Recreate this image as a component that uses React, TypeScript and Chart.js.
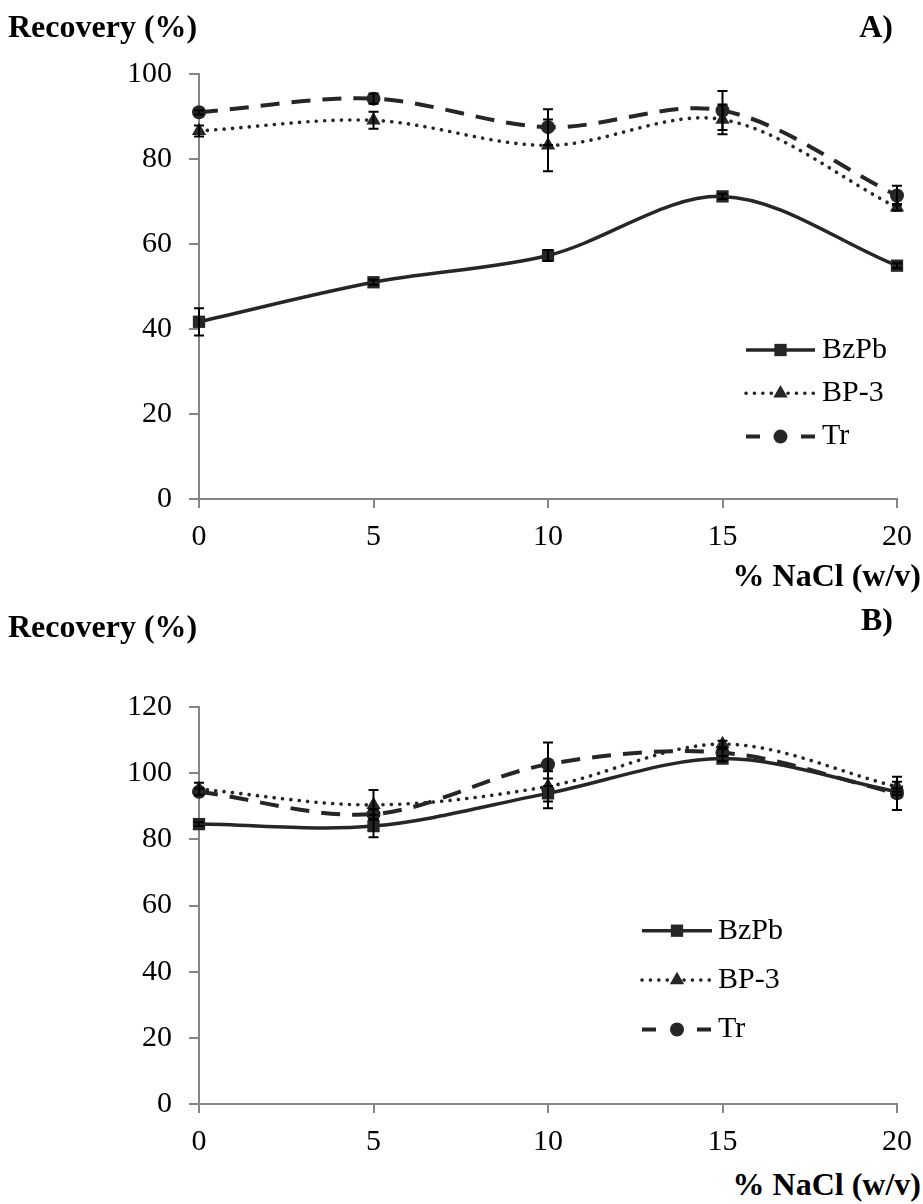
import React, { useEffect, useRef } from "react";
import { Chart, registerables } from "chart.js";

Chart.register(...registerables);

// ---------- data ----------
const xValues = [0, 5, 10, 15, 20];
const xTicks = [0, 5, 10, 15, 20];
const seriesNames = ["BzPb", "BP-3", "Tr"];

// Panel A
const bzpbA = [41.7, 51.0, 57.3, 71.2, 54.9];
const bzpbAErr = [3.2, 0.6, 1.3, 0.6, 0.6];
const bp3A = [86.6, 89.1, 83.2, 89.3, 68.6];
const bp3AErr = [1.3, 2.0, 6.1, 3.5, 0.8];
const trA = [91.0, 94.2, 87.5, 91.4, 71.4];
const trAErr = [0.5, 1.2, 4.2, 4.6, 2.3];
const yTicksA = [0, 20, 40, 60, 80, 100];

// Panel B
const bzpbB = [84.6, 84.0, 93.9, 104.4, 94.4];
const bzpbBErr = [0.6, 3.4, 4.5, 0.8, 1.0];
const bp3B = [95.2, 90.4, 96.0, 108.8, 95.9];
const bp3BErr = [1.9, 4.5, 4.6, 1.0, 1.5];
const trB = [94.4, 87.6, 102.7, 106.2, 93.9];
const trBErr = [1.0, 1.5, 6.6, 1.0, 5.0];
const yTicksB = [0, 20, 40, 60, 80, 100, 120];

// ---------- styles ----------
const FONT = '"Liberation Serif", "Times New Roman", serif';
const LINE = "#262626";
const AXIS = "#868686";

function drawMarker(ctx: CanvasRenderingContext2D, style: string, x: number, y: number, r: number, color: string) {
  ctx.save();
  ctx.fillStyle = color;
  ctx.beginPath();
  if (style === "rect") {
    const s = Math.SQRT1_2 * r;
    ctx.rect(x - s, y - s, 2 * s, 2 * s);
  } else if (style === "triangle") {
    ctx.moveTo(x, y - r);
    ctx.lineTo(x + r * Math.cos(Math.PI / 6), y + r * 0.5);
    ctx.lineTo(x - r * Math.cos(Math.PI / 6), y + r * 0.5);
    ctx.closePath();
  } else {
    ctx.arc(x, y, r, 0, Math.PI * 2);
  }
  ctx.fill();
  ctx.restore();
}

const errorBarPlugin = {
  id: "errorBars",
  afterDatasetsDraw(chart: any) {
    const { ctx } = chart;
    const xs = chart.scales.x;
    const ys = chart.scales.y;
    ctx.save();
    ctx.strokeStyle = "#000";
    ctx.lineWidth = 2;
    ctx.setLineDash([]);
    chart.data.datasets.forEach((ds: any) => {
      ds.data.forEach((p: any, i: number) => {
        const e = ds.errors[i];
        const px = xs.getPixelForValue(p.x);
        const top = ys.getPixelForValue(p.y + e);
        const bot = ys.getPixelForValue(p.y - e);
        ctx.beginPath();
        ctx.moveTo(px, top);
        ctx.lineTo(px, bot);
        ctx.moveTo(px - 5, top);
        ctx.lineTo(px + 5, top);
        ctx.moveTo(px - 5, bot);
        ctx.lineTo(px + 5, bot);
        ctx.stroke();
      });
    });
    ctx.restore();
  },
};

const legendPlugin = {
  id: "customLegend",
  afterDraw(chart: any, _args: any, opts: any) {
    const { ctx } = chart;
    chart.data.datasets.forEach((ds: any, i: number) => {
      const y = opts.y + i * opts.gap;
      const x1 = opts.x;
      const x2 = opts.x + opts.len;
      ctx.save();
      ctx.strokeStyle = ds.borderColor;
      ctx.lineWidth = ds.borderWidth;
      ctx.lineCap = ds.borderCapStyle || "butt";
      ctx.setLineDash(ds.legendDash || ds.borderDash || []);
      ctx.beginPath();
      ctx.moveTo(x1, y);
      ctx.lineTo(x2, y);
      ctx.stroke();
      ctx.setLineDash([]);
      drawMarker(ctx, ds.pointStyle, (x1 + x2) / 2, y, ds.pointRadius, ds.pointBackgroundColor);
      ctx.fillStyle = "#000";
      ctx.font = `${opts.fontSize}px ${FONT}`;
      ctx.textBaseline = "middle";
      ctx.textAlign = "left";
      ctx.fillText(ds.label, x2 + opts.textGap, y);
      ctx.restore();
    });
  },
};

function toPoints(vals: number[]) {
  return xValues.map((x, i) => ({ x, y: vals[i] }));
}

type PanelProps = {
  top: number;
  height: number;
  padTop: number;
  yMax: number;
  yTicks: number[];
  series: number[][];
  errors: number[][];
  legend: any;
};

function Panel({ top, height, padTop, yMax, yTicks, series, errors, legend }: PanelProps) {
  const ref = useRef<HTMLCanvasElement | null>(null);
  useEffect(() => {
    if (!ref.current) return;
    const common = {
      borderColor: LINE,
      pointBackgroundColor: LINE,
      pointBorderColor: LINE,
      pointBorderWidth: 0,
      tension: 0.33,
      fill: false,
      clip: false as any,
    };
    const chart = new Chart(ref.current, {
      type: "line",
      data: {
        datasets: [
          {
            ...common,
            label: seriesNames[0],
            data: toPoints(series[0]),
            errors: errors[0],
            borderWidth: 3.5,
            pointStyle: "rect",
            pointRadius: 8.7,
          } as any,
          {
            ...common,
            label: seriesNames[1],
            data: toPoints(series[1]),
            errors: errors[1],
            borderWidth: 3.6,
            borderDash: [0.1, 8.3],
            borderCapStyle: "round",
            pointStyle: "triangle",
            pointRadius: 8.3,
          } as any,
          {
            ...common,
            label: seriesNames[2],
            data: toPoints(series[2]),
            errors: errors[2],
            borderWidth: 4,
            borderDash: [19, 12],
            legendDash: [14, 41],
            pointStyle: "circle",
            pointRadius: 7,
          } as any,
        ],
      },
      options: {
        animation: false,
        responsive: false,
        devicePixelRatio: 1,
        events: [],
        layout: { padding: { top: padTop, left: 0, right: 21, bottom: 0 } },
        plugins: {
          legend: { display: false },
          tooltip: { enabled: false },
          title: { display: false },
          customLegend: legend,
        } as any,
        scales: {
          x: {
            type: "linear",
            min: 0,
            max: 20,
            afterBuildTicks: (s: any) => {
              s.ticks = xTicks.map((v) => ({ value: v }));
            },
            afterFit: (s: any) => {
              s.height = 61;
            },
            grid: { display: true, drawOnChartArea: false, drawTicks: true, tickLength: 9, color: AXIS, lineWidth: 2 },
            border: { display: true, color: AXIS, width: 2 },
            ticks: { color: "#000", font: { family: FONT, size: 30 }, padding: 11, maxRotation: 0 },
          },
          y: {
            type: "linear",
            min: 0,
            max: yMax,
            afterBuildTicks: (s: any) => {
              s.ticks = yTicks.map((v) => ({ value: v }));
            },
            afterFit: (s: any) => {
              s.width = 199;
            },
            grid: { display: true, drawOnChartArea: false, drawTicks: true, tickLength: 10, color: AXIS, lineWidth: 2 },
            border: { display: true, color: AXIS, width: 2 },
            ticks: { color: "#000", font: { family: FONT, size: 30 }, padding: 17 },
          },
        },
      },
      plugins: [errorBarPlugin, legendPlugin],
    } as any);
    return () => chart.destroy();
  }, []);
  return (
    <canvas
      ref={ref}
      width={923}
      height={height}
      style={{ position: "absolute", left: 0, top, width: 923, height }}
    />
  );
}

const boldText = (extra: React.CSSProperties): React.CSSProperties => ({
  position: "absolute",
  fontFamily: FONT,
  fontWeight: "bold",
  fontSize: 32,
  lineHeight: "32px",
  color: "#000",
  whiteSpace: "nowrap",
  ...extra,
});

export default function App() {
  return (
    <div style={{ position: "absolute", left: 0, top: 0, width: 923, height: 1204, background: "#fff", overflow: "hidden" }}>
      <Panel
        top={0}
        height={560}
        padTop={74}
        yMax={100}
        yTicks={yTicksA}
        series={[bzpbA, bp3A, trA]}
        errors={[bzpbAErr, bp3AErr, trAErr]}
        legend={{ x: 746, y: 350, gap: 43.3, len: 69, textGap: 7, fontSize: 30 }}
      />
      <Panel
        top={640}
        height={525}
        padTop={67}
        yMax={120}
        yTicks={yTicksB}
        series={[bzpbB, bp3B, trB]}
        errors={[bzpbBErr, bp3BErr, trBErr]}
        legend={{ x: 642, y: 290.7, gap: 49.4, len: 70, textGap: 6, fontSize: 30 }}
      />
      <div style={boldText({ left: 8, top: 10 })}>Recovery (%)</div>
      <div style={boldText({ left: 0, width: 893, top: 10, textAlign: "right" })}>A)</div>
      <div style={boldText({ left: 0, width: 921, top: 559, textAlign: "right" })}>% NaCl (w/v)</div>
      <div style={boldText({ left: 8, top: 610 })}>Recovery (%)</div>
      <div style={boldText({ left: 0, width: 893, top: 603, textAlign: "right" })}>B)</div>
      <div style={boldText({ left: 0, width: 921, top: 1168, textAlign: "right" })}>% NaCl (w/v)</div>
    </div>
  );
}
